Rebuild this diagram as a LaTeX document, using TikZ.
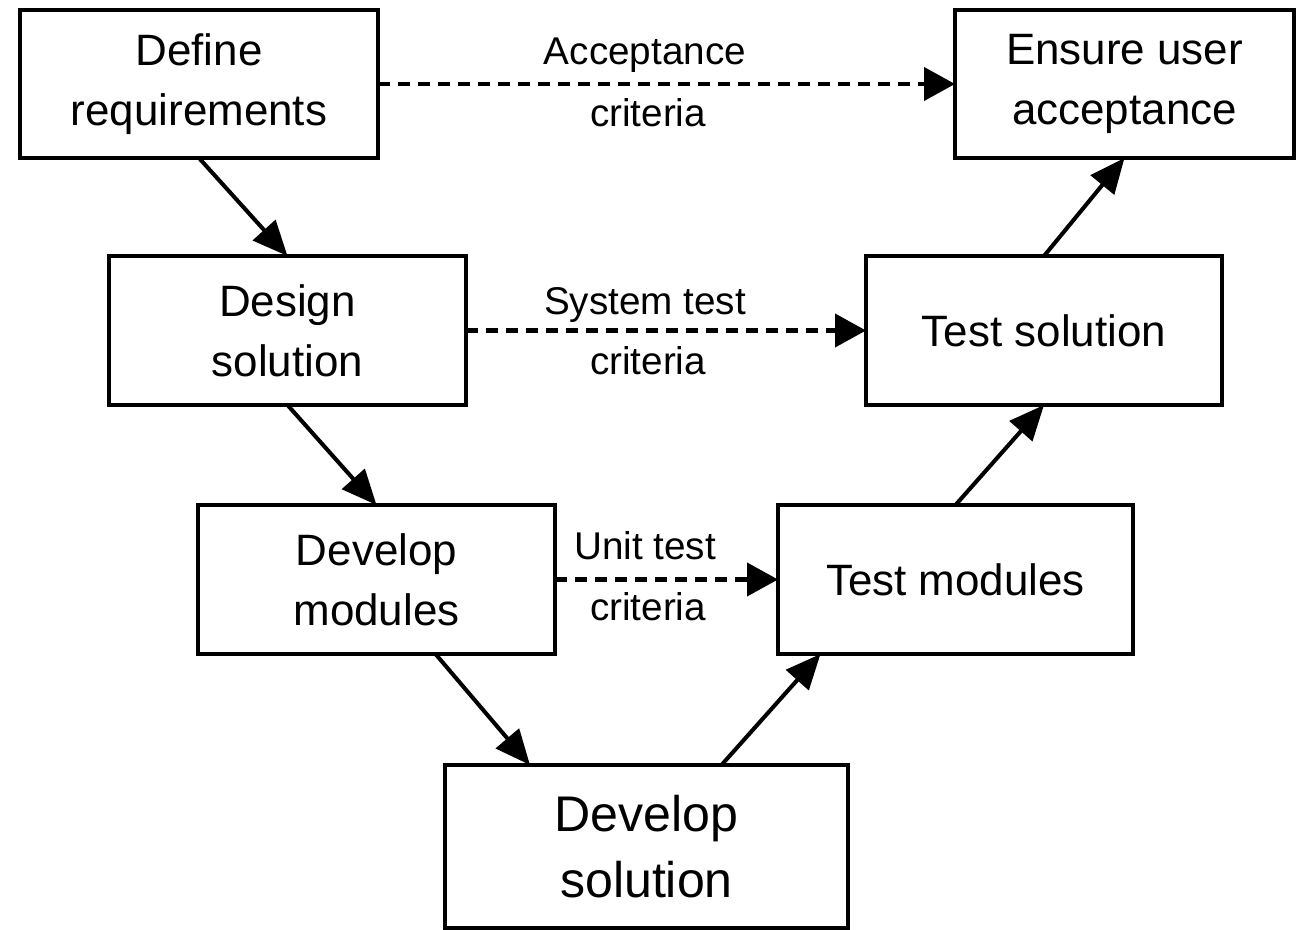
\documentclass[tikz,border=0pt]{standalone}
\usepackage{fontspec}
\setmainfont{Liberation Sans}
\usetikzlibrary{arrows.meta,positioning}

\tikzset{
  stage/.style={draw,line width=2.3pt,inner sep=0pt,outer sep=0pt,align=center,
    minimum width=7.14cm,minimum height=2.98cm,font=\fontsize{25}{34}\selectfont},
  flow/.style={line width=2.3pt,-{Triangle[length=0.7cm,width=0.6cm]}},
  check/.style={line width=2.4pt,dash pattern=on 0.24cm off 0.16cm,
    -{Triangle[length=0.62cm,width=0.66cm]}},
  crit/.style={font=\fontsize{22}{26}\selectfont,anchor=base,inner sep=0pt}
}

\begin{document}
\begin{tikzpicture}
\useasboundingbox (0,0) rectangle (25.92,-18.6);
% left leg of the V
\node[stage,minimum width=7.16cm,minimum height=2.96cm] (req) at (3.98,-1.68) {Define\\requirements};
\node[stage] (des) at (5.75,-6.61) {Design\\solution};
\node[stage] (mod) at (7.53,-11.59) {Develop\\modules};
% bottom
\node[stage,minimum width=8.06cm,minimum height=3.26cm,font=\fontsize{28.5}{38}\selectfont] (sol) at (12.93,-16.93) {Develop\\solution};
% right leg of the V
\node[stage,minimum width=7.1cm] (tmod) at (19.11,-11.59) {Test modules};
\node[stage,minimum width=7.12cm] (tsol) at (20.88,-6.61) {Test solution};
\node[stage,minimum width=6.78cm,minimum height=2.96cm] (uat) at (22.49,-1.68) {Ensure user\\acceptance};

\draw[flow] (req.south) -- (des.north);
\draw[flow] (des.south) -- (mod.north);
\draw[flow] ([xshift=1.18cm]mod.south) -- ([xshift=-2.33cm]sol.north);
\draw[flow] ([xshift=1.5cm]sol.north) -- ([xshift=-2.7cm]tmod.south);
\draw[flow] (tmod.north) -- (tsol.south);
\draw[flow] (tsol.north) -- (uat.south);

\draw[check] (req.east) -- (uat.west);
\draw[check] (des.east) -- (tsol.west);
\draw[check] (mod.east) -- (tmod.west);

\node[crit] (acc1) at (12.9,-1.3) {Acceptance};
\node[crit] (acc2) at (12.96,-2.54) {criteria};
\node[crit] (sys1) at (12.9,-6.3) {System test};
\node[crit] (sys2) at (12.96,-7.5) {criteria};
\node[crit] (unit1) at (12.9,-11.2) {Unit test};
\node[crit] (unit2) at (12.96,-12.4) {criteria};
\end{tikzpicture}
\end{document}
